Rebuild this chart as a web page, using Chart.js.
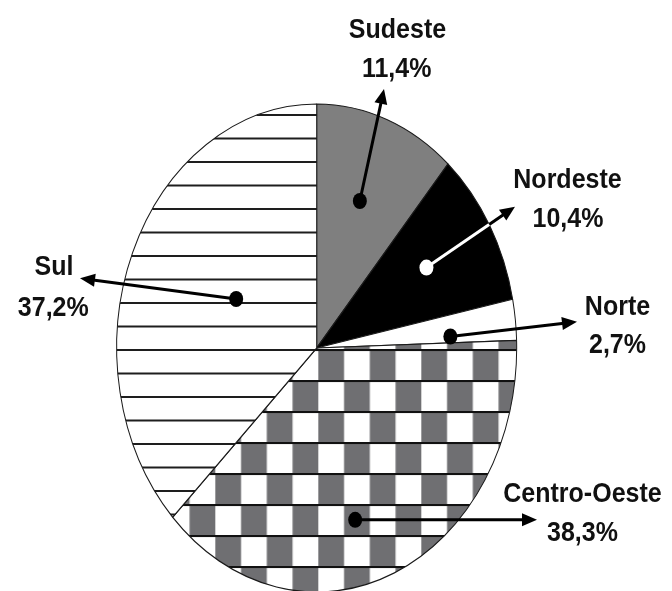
<!DOCTYPE html>
<html><head><meta charset="utf-8">
<script src="https://cdn.jsdelivr.net/npm/chart.js@4"></script>
<style>html,body{margin:0;padding:0;background:#fff}canvas{display:block}</style>
</head><body>
<canvas id="c" width="672" height="591"></canvas>
<script>
// ---- data ----
const categories = ['Sudeste', 'Nordeste', 'Norte', 'Centro-Oeste', 'Sul'];
const shares = [11.4, 10.4, 2.7, 38.3, 37.2];
const shareLabels = ['11,4%', '10,4%', '2,7%', '38,3%', '37,2%'];

// ---- styling / annotation layout ----
const VSTRETCH = 1.22;      // ellipse vertical stretch
const TEXT_STRETCH = 1.1;
const labelLayout = [
  { name: [397.5, 38.3], value: [396.7, 77.3], tip: [384, 89],   angleFrac: 0.48,  radFrac: 0.64, dot: '#000', line: '#000' },
  { name: [567.5, 188.3], value: [568, 226.7], tip: [515, 206.7], angleFrac: 0.48,  radFrac: 0.64, dot: '#fff', line: '#000', inner: '#fff' },
  { name: [617.5, 315],  value: [617.5, 353.3], tip: [577, 321.7], angleFrac: 0.77, radFrac: 0.67, dot: '#000', line: '#000' },
  { name: [582.5, 501.7], value: [582.5, 540.5], tip: [537, null],  angleFrac: 0.555, radFrac: 0.73, dot: '#000', line: '#000' },
  { name: [54, 275],     value: [53.3, 316],   tip: [80, 278.3],  angleFrac: 0.526, radFrac: 0.45, dot: '#000', line: '#000' }
];

// patterns
function makeStripes() {
  const t = document.createElement('canvas');
  t.width = 20; t.height = 94;
  const g = t.getContext('2d');
  g.fillStyle = '#fff'; g.fillRect(0, 0, 20, 94);
  g.fillStyle = '#1e1e1e';
  [0, 23.5, 47, 70.5].forEach(y => g.fillRect(0, y, 20, 2));
  return g.createPattern(t, 'repeat');
}
function makeChecker() {
  const t = document.createElement('canvas');
  t.width = 103; t.height = 62;
  const g = t.getContext('2d');
  g.fillStyle = '#fff'; g.fillRect(0, 0, 103, 62);
  g.fillStyle = '#6f6f72';
  const cw = 25.75, ch = 31;
  for (let i = 0; i < 4; i++) for (let j = 0; j < 2; j++) {
    if ((i + j) % 2 === 0) g.fillRect(i * cw, j * ch, cw, ch);
  }
  g.fillStyle = '#111';
  g.fillRect(0, 0, 103, 1);
  g.fillRect(0, 61, 103, 1);
  g.fillRect(0, 30, 103, 2);
  return g.createPattern(t, 'repeat');
}
const stripes = makeStripes();
const checker = makeChecker();
const patternOrigins = [[stripes, 0, 20], [checker, 9.3, 40]];
const sliceFills = ['#7f7f7f', '#000000', '#ffffff', checker, stripes];

const ellipsePlugin = {
  id: 'ellipse',
  beforeDatasetsDraw(chart) {
    const arc = chart.getDatasetMeta(0).data[0];
    const cx = arc.x, cy = arc.y;
    const ctx = chart.ctx;
    ctx.save();
    ctx.translate(cx, cy); ctx.scale(1, VSTRETCH); ctx.translate(-cx, -cy);
    patternOrigins.forEach(([p, ox, oy]) => {
      const m = new DOMMatrix().translate(cx, cy).scale(1, 1 / VSTRETCH).translate(-cx, -cy).translate(ox, oy);
      p.setTransform(m);
    });
  },
  afterDatasetsDraw(chart) { chart.ctx.restore(); }
};

function arrow(ctx, x0, y0, x1, y1, color) {
  const dx = x1 - x0, dy = y1 - y0, L = Math.hypot(dx, dy);
  const ux = dx / L, uy = dy / L;
  const hl = 15, hw = 6.5;
  const bx = x1 - ux * hl, by = y1 - uy * hl;
  ctx.strokeStyle = color; ctx.lineWidth = 3; ctx.lineCap = 'round';
  ctx.beginPath(); ctx.moveTo(x0, y0); ctx.lineTo(bx, by); ctx.stroke();
  ctx.fillStyle = color;
  ctx.beginPath();
  ctx.moveTo(x1, y1);
  ctx.lineTo(bx - uy * hw, by + ux * hw);
  ctx.lineTo(bx + uy * hw, by - ux * hw);
  ctx.closePath(); ctx.fill();
}

function stretchedText(ctx, t, x, y) {
  ctx.save();
  ctx.translate(x, y); ctx.scale(1, TEXT_STRETCH);
  ctx.fillText(t, 0, 0);
  ctx.restore();
}

const labelPlugin = {
  id: 'labels',
  afterDraw(chart) {
    const ctx = chart.ctx;
    const meta = chart.getDatasetMeta(0);
    ctx.save();
    meta.data.forEach((el, i) => {
      const L = labelLayout[i];
      const cx = el.x, cy = el.y, r = el.outerRadius;
      const a = el.startAngle + (el.endAngle - el.startAngle) * L.angleFrac;
      const px = cx + Math.cos(a) * r * L.radFrac;
      const py = cy + Math.sin(a) * r * L.radFrac * VSTRETCH;
      const tx = L.tip[0], ty = L.tip[1] == null ? py : L.tip[1];
      arrow(ctx, px, py, tx, ty, L.line);
      if (L.inner) {
        // part of the leader inside the slice is drawn in white
        let lo = 0, hi = 1;
        for (let k = 0; k < 40; k++) {
          const t = (lo + hi) / 2;
          const x = px + (tx - px) * t, y = py + (ty - py) * t;
          const d = ((x - cx) / r) ** 2 + ((y - cy) / (r * VSTRETCH)) ** 2;
          if (d < 1) lo = t; else hi = t;
        }
        ctx.strokeStyle = L.inner; ctx.lineWidth = 3; ctx.lineCap = 'butt';
        ctx.beginPath(); ctx.moveTo(px, py);
        ctx.lineTo(px + (tx - px) * lo, py + (ty - py) * lo); ctx.stroke();
      }
      ctx.fillStyle = L.dot;
      ctx.beginPath(); ctx.ellipse(px, py, 7, 8, 0, 0, Math.PI * 2); ctx.fill();
      ctx.fillStyle = '#111';
      ctx.font = "bold 25px 'Liberation Sans', Arial, sans-serif";
      ctx.textAlign = 'center'; ctx.textBaseline = 'alphabetic';
      stretchedText(ctx, categories[i], L.name[0], L.name[1]);
      stretchedText(ctx, shareLabels[i], L.value[0], L.value[1]);
    });
    ctx.restore();
  }
};

new Chart(document.getElementById('c'), {
  type: 'pie',
  data: {
    labels: categories,
    datasets: [{
      data: shares,
      backgroundColor: sliceFills,
      borderColor: '#1a1a1a',
      borderWidth: 1,
      hoverOffset: 0,
      offset: 0
    }]
  },
  options: {
    responsive: false,
    devicePixelRatio: 1,
    animation: false,
    radius: 200,
    layout: { padding: { left: 100, right: 138.6, top: 110, bottom: 5 } },
    plugins: { legend: { display: false }, tooltip: { enabled: false } },
    events: []
  },
  plugins: [ellipsePlugin, labelPlugin]
});
</script>
</body></html>
